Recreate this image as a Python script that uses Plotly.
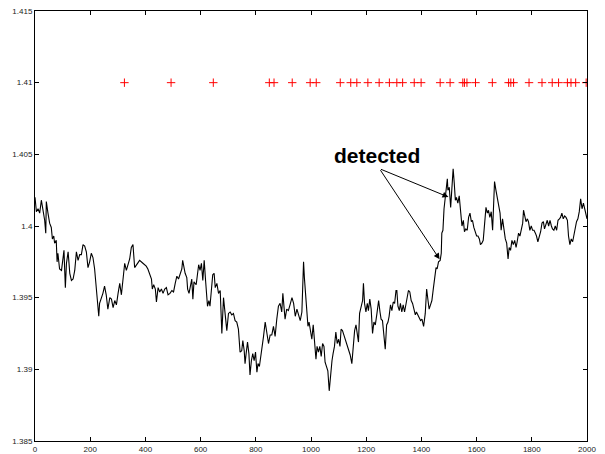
import plotly.graph_objects as go

# series readings (x index, value)
t = [0,5,11,17,23,29,35,39,41,47,53,59,63,68,71,77,80,83,89,96,102,105,110,114,120,126,132,138,144,150,156,162,168,174,180,186,192,198,204,210,216,222,226,231,234,240,246,252,258,264,271,277,283,289,295,301,307,313,319,325,331,337,343,349,355,361,367,373,379,391,403,409,416,422,425,430,436,440,446,452,458,464,470,476,482,
     489,496,502,508,514,520,526,532,535,540,544,550,553,558,562,568,572,576,584,589,593,598,603,608,613,618,622,625,630,634,639,644,649,653,659,665,671,677,683,689,695,701,707,713,719,725,731,737,743,749,753,758,761,765,770,775,779,784,789,794,799,804,808,813,818,823,828,834,840,846,852,858,864,870,876,882,888,894,898,903,906,912,918,924,931,937,943,949,955,961,967,973,976,
     985,989,993,998,1003,1008,1013,1018,1022,1027,1032,1037,1042,1047,1051,1056,1061,1066,1071,1076,1080,1085,1090,1095,1100,1105,1109,1114,1119,1124,1130,1136,1142,1148,1154,1158,1163,1167,1172,1176,1181,1187,1190,1194,1199,1204,1208,1213,1218,1223,1228,1233,1239,1245,1250,1254,1259,1264,1269,1274,1279,1283,1288,1293,1298,1303,1308,1311,1315,1320,1324,1329,1334,1339,1344,1349,1353,1358,1363,1368,1373,1378,1382,1387,1392,1397,1402,1408,1414,1419,1424,1428,1433,1438,1443,1448,
     1453,1457,1462,1468,1472,1474,1478,1482,1486,1490,1494,1496,1501,1506,1511,1515,1519,1523,1527,1532,1537,1542,1547,1552,1556,1561,1566,1571,1576,1581,1585,1590,1595,1600,1605,1610,1614,1619,1624,1629,1634,1639,1643,1648,1653,1658,1662,1665,1670,1675,1680,1685,1689,1694,1699,1704,1709,1714,1718,1723,1728,1733,1738,1743,1747,1752,1757,1762,1767,1770,1774,1779,1784,1788,1793,1798,1803,1808,1813,1817,1822,1827,1832,1837,1842,1846,1851,1856,1861,1866,1871,1875,1880,1885,1890,1895,1900,1904,1909,1914,1919,1924,1929,1933,1938,1943,1948,1952,1958,1962,1967,1972,1977,1982,1987,1991,1996,2000]

price = [1.4020,1.4010,1.4012,1.4009,1.4018,1.4011,1.4004,1.3995,1.4017,1.4009,1.4002,1.3999,1.3991,1.3993,1.3988,1.3990,1.3975,1.3981,1.3970,1.3969,1.3978,1.3983,1.3957,1.3974,1.3982,1.3967,1.3962,1.3963,1.3969,1.3982,1.3976,1.3980,1.3980,1.3987,1.3986,1.3982,1.3971,1.3975,1.3981,1.3978,1.3970,1.3957,1.3943,1.3937,1.3946,1.3949,1.3953,1.3958,1.3952,1.3942,1.3950,1.3949,1.3943,1.3948,1.3945,1.3953,1.3960,1.3952,1.3963,1.3974,1.3969,1.3973,1.3977,1.3985,1.3987,1.3971,1.3973,1.3975,1.3976,1.3974,1.3972,1.3970,1.3966,1.3963,1.3956,1.3959,1.3956,1.3947,1.3957,1.3954,1.3956,1.3953,1.3956,1.3957,1.3952,
         1.3953,1.3955,1.3954,1.3960,1.3965,1.3963,1.3967,1.3970,1.3976,1.3971,1.3967,1.3964,1.3956,1.3953,1.3957,1.3963,1.3949,1.3961,1.3959,1.3967,1.3973,1.3969,1.3974,1.3962,1.3976,1.3962,1.3953,1.3944,1.3948,1.3944,1.3955,1.3966,1.3967,1.3957,1.3960,1.3953,1.3955,1.3925,1.3950,1.3940,1.3927,1.3939,1.3940,1.3938,1.3939,1.3934,1.3933,1.3928,1.3912,1.3913,1.3920,1.3913,1.3904,1.3911,1.3919,1.3911,1.3896,1.3906,1.3911,1.3906,1.3912,1.3898,1.3904,1.3902,1.3909,1.3913,1.3923,1.3933,1.3924,1.3918,1.3924,1.3924,1.3930,1.3923,1.3935,1.3944,1.3946,1.3940,1.3953,1.3942,1.3935,1.3942,1.3941,1.3945,1.3950,1.3946,1.3937,1.3942,1.3937,1.3934,1.3940,1.3975,1.3964,
         1.3938,1.3930,1.3933,1.3927,1.3921,1.3931,1.3918,1.3907,1.3916,1.3912,1.3916,1.3909,1.3918,1.3916,1.3905,1.3902,1.3899,1.3885,1.3898,1.3906,1.3911,1.3916,1.3926,1.3918,1.3921,1.3916,1.3928,1.3927,1.3924,1.3921,1.3918,1.3913,1.3910,1.3904,1.3920,1.3927,1.3931,1.3925,1.3919,1.3939,1.3944,1.3948,1.3960,1.3946,1.3940,1.3946,1.3941,1.3949,1.3942,1.3925,1.3933,1.3931,1.3939,1.3948,1.3940,1.3935,1.3934,1.3924,1.3914,1.3931,1.3933,1.3937,1.3945,1.3941,1.3947,1.3946,1.3955,1.3955,1.3944,1.3941,1.3946,1.3940,1.3945,1.3940,1.3946,1.3952,1.3955,1.3954,1.3948,1.3946,1.3941,1.3938,1.3940,1.3938,1.3937,1.3934,1.3935,1.3930,1.3939,1.3956,1.3948,1.3942,1.3945,1.3948,1.3956,1.3963,
         1.3971,1.3970,1.3975,1.3976,1.3981,1.3995,1.3997,1.4012,1.4018,1.4028,1.4033,1.4025,1.4027,1.4013,1.4032,1.4040,1.4030,1.4018,1.4020,1.4016,1.4021,1.4012,1.4000,1.4004,1.3996,1.3998,1.3997,1.4006,1.4009,1.4003,1.4004,1.3999,1.3996,1.3993,1.3993,1.3991,1.3987,1.3988,1.3990,1.4000,1.4013,1.4009,1.4011,1.4006,1.4010,1.3997,1.4016,1.4031,1.4025,1.4019,1.4016,1.4009,1.3997,1.4005,1.3998,1.3991,1.3988,1.3977,1.3985,1.3983,1.3990,1.3987,1.3990,1.3985,1.3989,1.3995,1.3993,1.3997,1.4002,1.4011,1.4007,1.4003,1.4005,1.4003,1.3997,1.4000,1.3997,1.3997,1.3995,1.3993,1.3989,1.3992,1.3996,1.4002,1.4003,1.3998,1.4002,1.4004,1.4000,1.4004,1.4000,1.3998,1.3997,1.4000,1.3997,1.4004,1.4005,1.4006,1.4009,1.4005,1.4007,1.4006,1.4004,1.3993,1.3987,1.3991,1.3989,1.3993,1.3997,1.4003,1.4005,1.4010,1.4019,1.4012,1.4016,1.4013,1.4010,1.4005]

detect_x = [324,493,646,849,866,932,997,1019,1106,1144,1166,1206,1247,1284,1311,1332,1374,1399,1468,1504,1550,1556,1565,1596,1657,1716,1724,1734,1790,1837,1874,1897,1929,1942,1959,1997]
detect_level = 1.41

x_ticks = [0,200,400,600,800,1000,1200,1400,1600,1800,2000]
y_ticks = [1.385,1.39,1.395,1.4,1.405,1.41,1.415]
y_ticktext = ["1.385","1.39","1.395","1.4","1.405","1.41","1.415"]

label_text = "detected"
label_pos = (1239, 1.4049)
arrow_tail = (1248, 1.4040)
arrow_heads = [(1498, 1.40202), (1466, 1.39768)]

fig = go.Figure()
fig.add_trace(go.Scatter(x=t, y=price, mode="lines",
                         line=dict(color="black", width=1.1), showlegend=False,
                         hoverinfo="skip"))
fig.add_trace(go.Scatter(x=detect_x, y=[detect_level]*len(detect_x), mode="markers",
                         marker=dict(symbol="cross-thin", size=6, color="red",
                                     line=dict(color="red", width=1)),
                         showlegend=False, hoverinfo="skip"))

fig.add_annotation(x=label_pos[0], y=label_pos[1], text=label_text, showarrow=False,
                   font=dict(family="Liberation Sans, Arial", size=21, color="black", weight="bold"))
for hx, hy in arrow_heads:
    fig.add_annotation(x=hx, y=hy, ax=arrow_tail[0], ay=arrow_tail[1],
                       axref="x", ayref="y", xref="x", yref="y", text="",
                       showarrow=True, arrowhead=2, arrowsize=1.2, arrowwidth=1,
                       arrowcolor="black")

axis_common = dict(showline=True, linecolor="black", linewidth=1, mirror="ticks",
                   ticks="inside", ticklen=4, tickcolor="black", showgrid=False,
                   zeroline=False, automargin=False,
                   tickfont=dict(family="Liberation Sans, Arial", size=8, color="#222"))
fig.update_xaxes(range=[0, 2000], tickvals=x_ticks, ticktext=[str(v) for v in x_ticks], **axis_common)
fig.update_yaxes(range=[1.385, 1.415], tickvals=y_ticks, ticktext=y_ticktext, **axis_common)

fig.update_layout(width=605, height=454, margin=dict(l=35, r=18, t=11, b=13),
                  paper_bgcolor="white", plot_bgcolor="white", hovermode=False)
# remove the default page margin so the figure sits at the window origin
fig.write_html("out.html", config={"displayModeBar": False, "staticPlot": True},
               post_script="document.body.style.margin='0px';document.body.style.overflow='hidden';")
